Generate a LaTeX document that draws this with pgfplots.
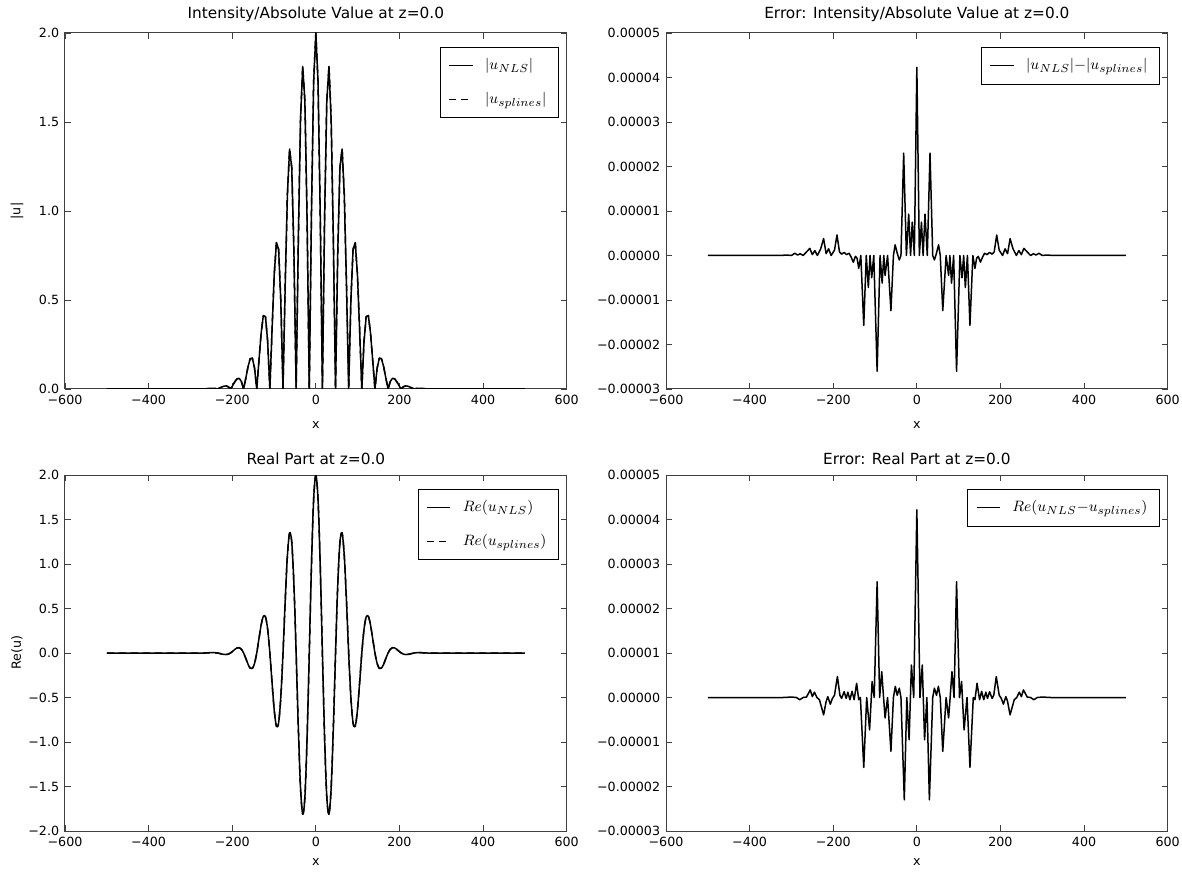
\documentclass[border=0pt]{standalone}
\usepackage{fontspec}
\setmainfont{DejaVu Sans}
\usepackage{pgfplots}
\usepackage{pgfplotstable}
\pgfplotsset{compat=1.18}

% field at z=0: x, Re(u), |u|
\pgfplotstableread{
x re abs
-500 0 0
-400 0 0
-300 0 0
-267.04 0 0
-261.80 0.0011 0.0011
-256.56 0.0024 0.0024
-251.33 0.0036 0.0036
-246.09 0.0041 0.0041
-240.86 0.0030 0.0030
-235.62 0 0
-230.38 -0.0049 0.0049
-225.15 -0.0109 0.0109
-219.91 -0.0159 0.0159
-214.68 -0.0173 0.0173
-209.44 -0.0125 0.0125
-204.20 0 0
-198.97 0.019 0.019
-193.73 0.041 0.041
-188.50 0.057 0.057
-183.26 0.060 0.060
-178.02 0.042 0.042
-172.79 0 0
-167.55 -0.060 0.060
-162.32 -0.124 0.124
-157.08 -0.170 0.170
-151.84 -0.173 0.173
-146.61 -0.117 0.117
-141.37 0 0
-136.14 0.157 0.157
-130.90 0.312 0.312
-125.66 0.412 0.412
-120.43 0.406 0.406
-115.19 0.265 0.265
-109.96 0 0
-104.72 -0.334 0.334
-99.48 -0.644 0.644
-94.25 -0.823 0.823
-89.01 -0.784 0.784
-83.78 -0.496 0.496
-78.54 0 0
-73.30 0.584 0.584
-68.07 1.090 1.090
-62.83 1.348 1.348
-57.60 1.243 1.243
-52.36 0.760 0.760
-47.12 0 0
-41.89 -0.839 0.839
-36.65 -1.514 1.514
-31.42 -1.812 1.812
-26.18 -1.617 1.617
-20.94 -0.957 0.957
-15.71 0 0
-10.47 0.989 0.989
-5.24 1.727 1.727
0 2.000 2.000
5.24 1.727 1.727
10.47 0.989 0.989
15.71 0 0
20.94 -0.957 0.957
26.18 -1.617 1.617
31.42 -1.812 1.812
36.65 -1.514 1.514
41.89 -0.839 0.839
47.12 0 0
52.36 0.760 0.760
57.60 1.243 1.243
62.83 1.348 1.348
68.07 1.090 1.090
73.30 0.584 0.584
78.54 0 0
83.78 -0.496 0.496
89.01 -0.784 0.784
94.25 -0.823 0.823
99.48 -0.644 0.644
104.72 -0.334 0.334
109.96 0 0
115.19 0.265 0.265
120.43 0.406 0.406
125.66 0.412 0.412
130.90 0.312 0.312
136.14 0.157 0.157
141.37 0 0
146.61 -0.117 0.117
151.84 -0.173 0.173
157.08 -0.170 0.170
162.32 -0.124 0.124
167.55 -0.060 0.060
172.79 0 0
178.02 0.042 0.042
183.26 0.060 0.060
188.50 0.057 0.057
193.73 0.041 0.041
198.97 0.019 0.019
204.20 0 0
209.44 -0.0125 0.0125
214.68 -0.0173 0.0173
219.91 -0.0159 0.0159
225.15 -0.0109 0.0109
230.38 -0.0049 0.0049
235.62 0 0
240.86 0.0030 0.0030
246.09 0.0041 0.0041
251.33 0.0036 0.0036
256.56 0.0024 0.0024
261.80 0.0011 0.0011
267.04 0 0
300 0 0
400 0 0
500 0 0
}\wave

% |u_NLS| - |u_splines|
\pgfplotstableread{
x y
-500 0
-330 0
-310 0.01e-5
-300 0
-292 0.05e-5
-285 0.01e-5
-279 0.04e-5
-272 0
-264 0.08e-5
-256 0.16e-5
-250 0.02e-5
-244 0.11e-5
-238 0
-230 0.15e-5
-223 0.38e-5
-217 0.04e-5
-211 0.15e-5
-205 0
-197 0.12e-5
-191 0.46e-5
-185 0.08e-5
-180 0.03e-5
-174 0.07e-5
-168 0.02e-5
-162 0.05e-5
-157 -0.04e-5
-152 -0.15e-5
-147 -0.02e-5
-143 -0.06e-5
-139 -0.29e-5
-134 0
-127 -1.57e-5
-121 0
-116 -0.72e-5
-112 0
-108 -0.50e-5
-103 0
-95 -2.60e-5
-88 0
-83 -0.62e-5
-79 0
-76 -0.45e-5
-70 0
-62 -1.24e-5
-56 0
-52 0.24e-5
-46 0.02e-5
-42 -0.10e-5
-38 0
-31.5 2.30e-5
-25 0
-19.5 0.93e-5
-15 0
-11 0.75e-5
-6 0
0 4.23e-5
6 0
11 0.75e-5
15 0
19.5 0.93e-5
25 0
31.5 2.30e-5
38 0
42 -0.10e-5
46 0.02e-5
52 0.24e-5
56 0
62 -1.24e-5
70 0
76 -0.45e-5
79 0
83 -0.62e-5
88 0
95 -2.60e-5
103 0
108 -0.50e-5
112 0
116 -0.72e-5
121 0
127 -1.57e-5
134 0
139 -0.29e-5
143 -0.06e-5
147 -0.02e-5
152 -0.15e-5
157 -0.04e-5
162 0.05e-5
168 0.02e-5
174 0.07e-5
180 0.03e-5
185 0.08e-5
191 0.46e-5
197 0.12e-5
205 0
211 0.15e-5
217 0.04e-5
223 0.38e-5
230 0.15e-5
238 0
244 0.11e-5
250 0.02e-5
256 0.16e-5
264 0.08e-5
272 0
279 0.04e-5
285 0.01e-5
292 0.05e-5
300 0
310 0.01e-5
330 0
500 0
}\errabs

% Re(u_NLS - u_splines)
\pgfplotstableread{
x y
-500 0
-320 0
-300 0.01e-5
-288 0
-280 -0.05e-5
-272 0
-264 0.01e-5
-255 0.17e-5
-250 0.02e-5
-245 0.12e-5
-239 0
-233 -0.05e-5
-223 -0.39e-5
-217 -0.09e-5
-213 0.02e-5
-207 -0.15e-5
-202 -0.02e-5
-197 0.05e-5
-190 0.47e-5
-184 0.05e-5
-180 -0.02e-5
-174 0.13e-5
-169 -0.02e-5
-165 0.12e-5
-160 -0.05e-5
-155 0.14e-5
-150 -0.05e-5
-144 0.32e-5
-139 -0.05e-5
-135 0
-127 -1.57e-5
-120 0
-113 -0.73e-5
-107 0.36e-5
-102 0
-95 2.60e-5
-89 0
-84 0.58e-5
-80 0.05e-5
-76 -0.46e-5
-70 0
-62 -1.21e-5
-56 0
-51.5 0.25e-5
-47 0.05e-5
-42 0.21e-5
-38 0
-30 -2.30e-5
-24 0
-18.5 -0.95e-5
-13 0.73e-5
-7.5 0
0 4.22e-5
7.5 0
13 0.73e-5
18.5 -0.95e-5
24 0
30 -2.30e-5
38 0
42 0.21e-5
47 0.05e-5
51.5 0.25e-5
56 0
62 -1.21e-5
70 0
76 -0.46e-5
80 0.05e-5
84 0.58e-5
89 0
95 2.60e-5
102 0
107 0.36e-5
113 -0.73e-5
120 0
127 -1.57e-5
135 0
139 -0.05e-5
144 0.32e-5
150 -0.05e-5
155 0.14e-5
160 -0.05e-5
165 0.12e-5
169 -0.02e-5
174 0.13e-5
180 -0.02e-5
184 0.05e-5
190 0.47e-5
197 0.05e-5
202 -0.02e-5
207 -0.15e-5
213 0.02e-5
217 -0.09e-5
223 -0.39e-5
233 -0.05e-5
239 0
245 0.12e-5
250 0.02e-5
255 0.17e-5
264 0.01e-5
272 0
280 -0.05e-5
288 0
300 0.01e-5
320 0
500 0
}\errre

\pgfplotsset{
  nlsax/.style={
    scale only axis, width=301pt, height=213.6pt,
    xmin=-600, xmax=600,
    xtick={-600,-400,-200,0,200,400,600},
    xticklabels={−600,−400,−200,0,200,400,600},
    scaled y ticks=false,
    tick align=inside,
    major tick length=3.6pt,
    every tick/.style={black!75, line width=0.5pt},
    axis line style={black!75, line width=0.6pt},
    tick label style={font=\fontsize{7.6}{9}\selectfont},
    xlabel={x},
    every axis x label/.style={at={(axis description cs:0.5,0)}, anchor=center,
      yshift=-21.6pt, font=\fontsize{7.6}{9}\selectfont},
    every axis y label/.style={at={(axis description cs:-0.0957,0.5)}, rotate=90,
      anchor=center, font=\fontsize{7.6}{9}\selectfont},
    every axis title/.style={at={(axis description cs:0.5,1)}, anchor=center,
      yshift=11.4pt, font=\fontsize{9.2}{11}\selectfont},
    legend cell align=left,
    legend image code/.code={\draw[#1] (0pt,0pt) -- (14pt,0pt);},
    legend style={at={(0.984,0.962)}, anchor=north east, draw=black,
      line width=0.6pt, font=\fontsize{9.4}{11}\selectfont,
      inner xsep=5pt, inner ysep=5pt, row sep=8pt, column sep=5pt},
  },
  curve/.style={black, line width=0.9pt, mark=none, line join=round},
  errax/.style={
    ymin=-3e-5, ymax=5e-5,
    ytick={-3e-5,-2e-5,-1e-5,0,1e-5,2e-5,3e-5,4e-5,5e-5},
    yticklabels={−0.00003,−0.00002,−0.00001,0.00000,0.00001,0.00002,0.00003,0.00004,0.00005},
  },
}

\begin{document}
\begin{tikzpicture}
\path[use as bounding box] (0,0) rectangle (709.2pt,522.6pt);

% top left: |u|
\begin{axis}[nlsax, at={(39pt,289.2pt)}, anchor=south west,
  title={Intensity/Absolute Value at z=0.0}, ylabel={|u|},
  ymin=0, ymax=2, ytick={0,0.5,1,1.5,2},
  yticklabels={0.0,0.5,1.0,1.5,2.0}]
\addplot[curve] table[x=x,y=abs] {\wave};
\addlegendentry{$|u_{NLS}|$}
\addplot[curve, dash pattern=on 4.2pt off 3pt] table[x=x,y=abs] {\wave};
\addlegendentry{$|u_{splines}|$}
\end{axis}

% top right: error of |u|
\begin{axis}[nlsax, errax, at={(399.6pt,289.2pt)}, anchor=south west,
  title={Error: Intensity/Absolute Value at z=0.0}]
\addplot[curve] table[x=x,y=y] {\errabs};
\addlegendentry{$|u_{NLS}|{-}|u_{splines}|$}
\end{axis}

% bottom left: Re(u)
\begin{axis}[nlsax, at={(39pt,24pt)}, anchor=south west,
  every axis x label/.append style={yshift=3pt},
  every axis title/.append style={yshift=-1.8pt},
  title={Real Part at z=0.0}, ylabel={Re(u)},
  ymin=-2, ymax=2, ytick={-2,-1.5,-1,-0.5,0,0.5,1,1.5,2},
  yticklabels={−2.0,−1.5,−1.0,−0.5,0.0,0.5,1.0,1.5,2.0}]
\addplot[curve, smooth] table[x=x,y=re] {\wave};
\addlegendentry{$Re(u_{NLS})$}
\addplot[curve, smooth, dash pattern=on 4.2pt off 3pt] table[x=x,y=re] {\wave};
\addlegendentry{$Re(u_{splines})$}
\end{axis}

% bottom right: error of Re(u)
\begin{axis}[nlsax, errax, at={(399.6pt,24pt)}, anchor=south west,
  every axis x label/.append style={yshift=3pt},
  every axis title/.append style={yshift=-1.8pt},
  title={Error: Real Part at z=0.0}]
\addplot[curve] table[x=x,y=y] {\errre};
\addlegendentry{$Re(u_{NLS}{-}u_{splines})$}
\end{axis}
\end{tikzpicture}
\end{document}
